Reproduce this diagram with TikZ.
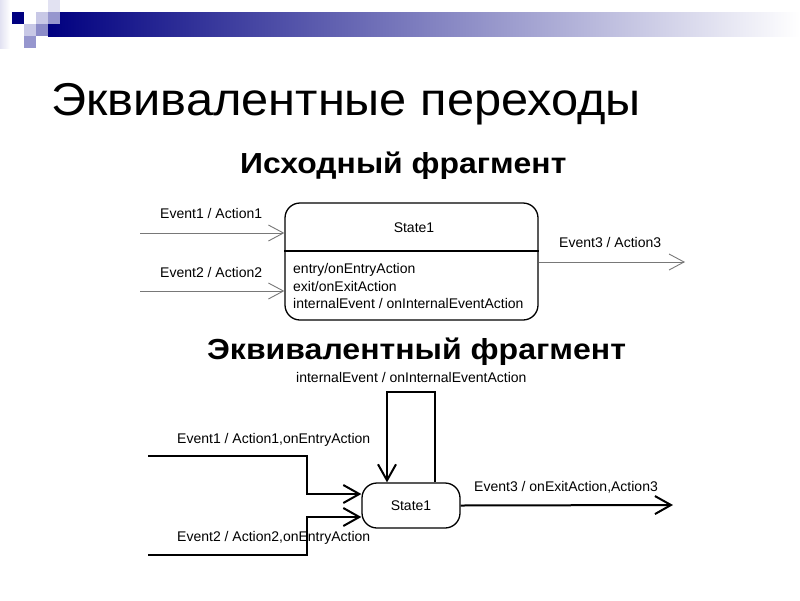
\documentclass[tikz,border=0pt]{standalone}
\usepackage{fontspec}
\usepackage{graphicx}
\setmainfont{Liberation Sans}
\usetikzlibrary{arrows.meta}
\definecolor{navy}{RGB}{0,0,128}
\definecolor{lav1}{RGB}{226,226,242}
\definecolor{lav2}{RGB}{200,200,230}
\definecolor{lav3}{RGB}{150,150,206}
\definecolor{lav4}{RGB}{140,140,200}
\definecolor{lgray}{RGB}{120,120,120}
\tikzset{
  lbl/.style={anchor=base west, inner sep=0pt, font=\fontsize{14}{17}\selectfont},
  headlbl/.style={anchor=base west, inner sep=0pt, font=\fontsize{29}{34}\selectfont\bfseries},
  uparrow/.style={draw=lgray, line width=0.9pt, -{Straight Barb[length=15pt,width=16pt]}},
  lowarrow/.style={draw=black, line width=2pt, -{Straight Barb[length=16pt,width=18pt]}},
}
\begin{document}
\begin{tikzpicture}[x=1pt,y=-1pt]
\useasboundingbox[fill=white] (0,0) rectangle (800,600);
% header decoration
\shade[left color=lav1, right color=white] (0,0) rectangle (10,48);
\shade[left color=navy, right color=white] (48,12) rectangle (800,36);
\fill[navy] (12,12) rectangle (24,24);
\fill[lav1] (48,0) rectangle (60,12);
\fill[lav2] (36,12) rectangle (48,24);
\fill[lav3] (48,12) rectangle (60,24);
\fill[lav2] (24,24) rectangle (36,36);
\fill[lav4] (36,24) rectangle (48,36);
\fill[lav3] (24,36) rectangle (36,48);
% titles
\node[anchor=base west, inner sep=0pt, font=\fontsize{46}{50}\selectfont] (title) at (51,115) {\scalebox{1.06}[1]{Эквивалентные переходы}};
\node[headlbl] (h1) at (240,173) {\scalebox{1.10}[1]{Исходный фрагмент}};
\node[headlbl] (h2) at (207,359) {\scalebox{1.105}[1]{Эквивалентный фрагмент}};
% upper diagram
\node[draw, line width=1.3pt, rounded corners=15pt, minimum width=253pt, minimum height=117pt, inner sep=0pt] (s1) at (411.5,261.5) {};
\draw[line width=1.8pt] (s1.west |- 0,251) -- (s1.east |- 0,251);
\node[anchor=base, inner sep=0pt, font=\fontsize{14}{17}\selectfont] (s1name) at (414,232) {State1};
\node[lbl] (c1) at (293,273) {entry/onEntryAction};
\node[lbl] (c2) at (293,291) {exit/onExitAction};
\node[lbl] (c3) at (293,308) {internalEvent / onInternalEventAction};
\coordinate (u1) at (140,233);
\coordinate (u2) at (140,291);
\coordinate (u3) at (685,262);
\draw[uparrow] (u1) -- (s1.west |- u1);
\draw[uparrow] (u2) -- (s1.west |- u2);
\draw[uparrow] (s1.east |- u3) -- (u3);
\node[lbl] (l1) at (160,218) {Event1 / Action1};
\node[lbl] (l2) at (160,277) {Event2 / Action2};
\node[lbl] (l3) at (559,247) {Event3 / Action3};
% lower diagram
\node[draw, line width=1.3pt, rounded corners=15pt, minimum width=98pt, minimum height=45pt, inner sep=0pt, font=\fontsize{14}{17}\selectfont] (s2) at (411,505.5) {State1};
\coordinate (a1) at (148,456);
\coordinate (b1) at (307,456);
\coordinate (c1p) at (307,494);
\coordinate (a2) at (148,555);
\coordinate (b2) at (307,555);
\coordinate (c2p) at (307,517);
\coordinate (lr) at (435,392);
\coordinate (ll) at (387,392);
\coordinate (e3) at (673,505);
\draw[lowarrow] (a1) -- (b1) -- (c1p) -- (s2.west |- c1p);
\draw[lowarrow] (a2) -- (b2) -- (c2p) -- (s2.west |- c2p);
\draw[lowarrow] (s2.north -| lr) -- (lr) -- (ll) -- (s2.north -| ll);
\draw[lowarrow] (s2.east) -- (e3);
\node[lbl] (m0) at (296,382) {internalEvent / onInternalEventAction};
\node[lbl] (m1) at (177,443) {Event1 / Action1,onEntryAction};
\node[lbl] (m2) at (177,541) {Event2 / Action2,onEntryAction};
\node[lbl] (m3) at (474,491) {Event3 / onExitAction,Action3};
\end{tikzpicture}
\end{document}
